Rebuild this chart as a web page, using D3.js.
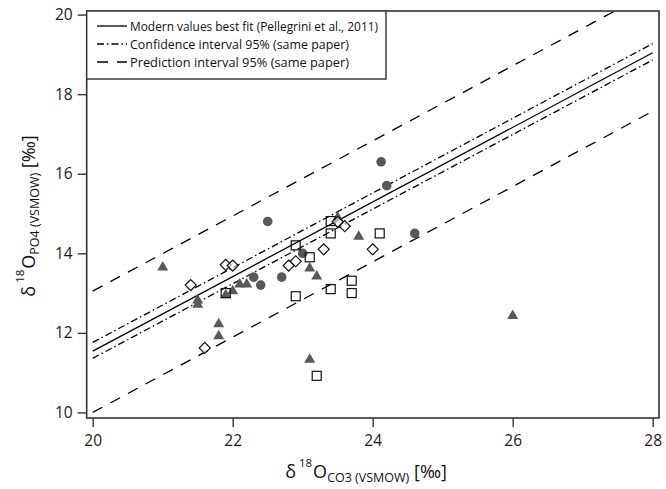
<!DOCTYPE html>
<html><head><meta charset="utf-8">
<script src="https://cdn.jsdelivr.net/npm/d3@7"></script>
<style>html,body{margin:0;padding:0;background:#fff;}svg{display:block;font-family:"Open Sans",sans-serif;}</style>
</head><body>
<svg id="c" width="666" height="489"></svg>
<script>
// ---- data ----
const xTicks = [20, 22, 24, 26, 28];
const yTicks = [10, 12, 14, 16, 18, 20];
const circles = [[22.5,14.8],[23.0,14.0],[22.3,13.4],[22.4,13.2],[22.7,13.4],[24.12,16.3],[24.2,15.7],[24.6,14.5]];
const triangles = [[21.0,13.65],[21.5,12.82],[21.5,12.71],[21.9,12.95],[22.0,13.05],[22.1,13.22],[22.2,13.22],[21.8,12.22],[21.8,11.92],[23.1,13.62],[23.2,13.42],[23.5,14.9],[23.8,14.42],[23.1,11.33],[26.0,12.43]];
const squares = [[21.9,13.0],[22.9,14.2],[23.1,13.9],[23.4,14.81],[23.4,14.5],[24.1,14.5],[23.7,13.31],[23.7,13.0],[23.4,13.1],[22.9,12.92],[23.2,10.92]];
const diamonds = [[21.4,13.2],[21.6,11.62],[21.9,13.71],[22.0,13.69],[22.8,13.69],[22.9,13.8],[23.3,14.1],[23.5,14.79],[23.6,14.68],[24.0,14.1]];
const fitLine = [[20,11.54],[28,19.04]];
const ciUpper = [[20,11.76],[28,19.27]];
const ciLower = [[20,11.36],[28,18.86]];
const piUpper = [[20,13.05],[28,20.6]];
const piLower = [[20,10.0],[28,17.57]];
const legendLabels = ["Modern values best fit (Pellegrini et al., 2011)","Confidence interval 95% (same paper)","Prediction interval 95% (same paper)"];

// ---- layout ----
const L = 86.7, R = 659, T = 11, B = 418;
const x = d3.scaleLinear().domain([19.914, 28.09]).range([L, R]);
const y = d3.scaleLinear().domain([9.86, 20.09]).range([B, T]);
const svg = d3.select("#c");
const frameCol = "#333";
const gray = "#595959";

svg.append("defs").append("clipPath").attr("id","clip")
  .append("rect").attr("x",L).attr("y",T).attr("width",R-L).attr("height",B-T);

// axes
const xAxis = svg.append("g").attr("transform",`translate(0,${B})`)
  .call(d3.axisBottom(x).tickValues(xTicks).tickSize(9).tickPadding(8).tickFormat(d3.format("d")));
const yAxis = svg.append("g").attr("transform",`translate(${L},0)`)
  .call(d3.axisLeft(y).tickValues(yTicks).tickSize(9).tickPadding(5).tickFormat(d3.format("d")));
[xAxis,yAxis].forEach(g=>{
  g.select(".domain").remove();
  g.selectAll(".tick line").attr("stroke",frameCol).attr("stroke-width",1.4);
  g.selectAll(".tick text").attr("fill","#1a1a1a").style("font-size","15.5px").style("font-family","'Open Sans',sans-serif");
});

// lines
const line = d3.line().x(d=>x(d[0])).y(d=>y(d[1]));
const lg = svg.append("g").attr("clip-path","url(#clip)");
const styles = [
  {data:fitLine, dash:null},
  {data:ciUpper, dash:"7,3,1.5,3"},
  {data:ciLower, dash:"7,3,1.5,3"},
  {data:piUpper, dash:"11,9"},
  {data:piLower, dash:"11,9"}
];
styles.forEach(s=>{
  lg.append("path").attr("d",line(s.data)).attr("fill","none").attr("stroke","#000")
    .attr("stroke-width",1.3).attr("stroke-dasharray",s.dash);
});

// markers
const mg = svg.append("g");
mg.selectAll("circle.c").data(circles).join("circle")
  .attr("cx",d=>x(d[0])).attr("cy",d=>y(d[1])).attr("r",4.8).attr("fill",gray);
const tri = d3.symbol().type(d3.symbolTriangle).size(52);
mg.selectAll("path.t").data(triangles).join("path")
  .attr("transform",d=>`translate(${x(d[0])},${y(d[1])})`).attr("d",tri()).attr("fill",gray);
mg.selectAll("rect.s").data(squares).join("rect")
  .attr("x",d=>x(d[0])-4.5).attr("y",d=>y(d[1])-4.5).attr("width",9).attr("height",9)
  .attr("fill","none").attr("stroke","#111").attr("stroke-width",1.2);
mg.selectAll("path.d").data(diamonds).join("path")
  .attr("transform",d=>`translate(${x(d[0])},${y(d[1])}) rotate(45)`)
  .attr("d","M-3.9,-3.9H3.9V3.9H-3.9Z")
  .attr("fill","white").attr("fill-opacity",0.6).attr("stroke","#111").attr("stroke-width",1.2);

// frame
svg.append("rect").attr("x",L).attr("y",T).attr("width",R-L).attr("height",B-T)
  .attr("fill","none").attr("stroke",frameCol).attr("stroke-width",1.6);

// legend
const leg = svg.append("g");
leg.append("rect").attr("x",L).attr("y",T).attr("width",386-L).attr("height",79-T)
  .attr("fill","white").attr("stroke",frameCol).attr("stroke-width",1.4);
const legDash = [null,"7,3,1.5,3","11,9"];
const legW = [248,219,219];
legendLabels.forEach((t,i)=>{
  const cy = 26 + i*18;
  leg.append("line").attr("x1",97).attr("x2",127).attr("y1",cy).attr("y2",cy)
    .attr("stroke","#000").attr("stroke-width",1.3).attr("stroke-dasharray",legDash[i]);
  const tx = leg.append("text").attr("x",130).attr("y",cy+4.5).text(t)
    .style("font-size","13px").attr("fill","#111");
  const w = tx.node().getComputedTextLength();
  if (Math.abs(w-legW[i])>3) tx.attr("textLength",legW[i]).attr("lengthAdjust","spacingAndGlyphs");
});

// x title
const xt = svg.append("text").attr("x",366).attr("y",478).attr("text-anchor","middle").attr("fill","#111").style("font-size","18px");
xt.append("tspan").text("δ");
xt.append("tspan").attr("dx",3).attr("dy",-11).style("font-size","11.5px").text("18");
xt.append("tspan").attr("dx",1).attr("dy",11).text("O");
xt.append("tspan").attr("dy",4).style("font-size","12.5px").text("CO3 (VSMOW)");
xt.append("tspan").attr("dy",-4).text(" [‰]");

// y title
const yt = svg.append("text").attr("transform","translate(35,216) rotate(-90)").attr("text-anchor","middle").attr("fill","#111").style("font-size","18px");
yt.append("tspan").text("δ");
yt.append("tspan").attr("dx",3).attr("dy",-11).style("font-size","11.5px").text("18");
yt.append("tspan").attr("dx",1).attr("dy",11).text("O");
yt.append("tspan").attr("dy",4).style("font-size","12.5px").text("PO4 (VSMOW)");
yt.append("tspan").attr("dy",-4).text(" [‰]");
</script>
</body></html>
